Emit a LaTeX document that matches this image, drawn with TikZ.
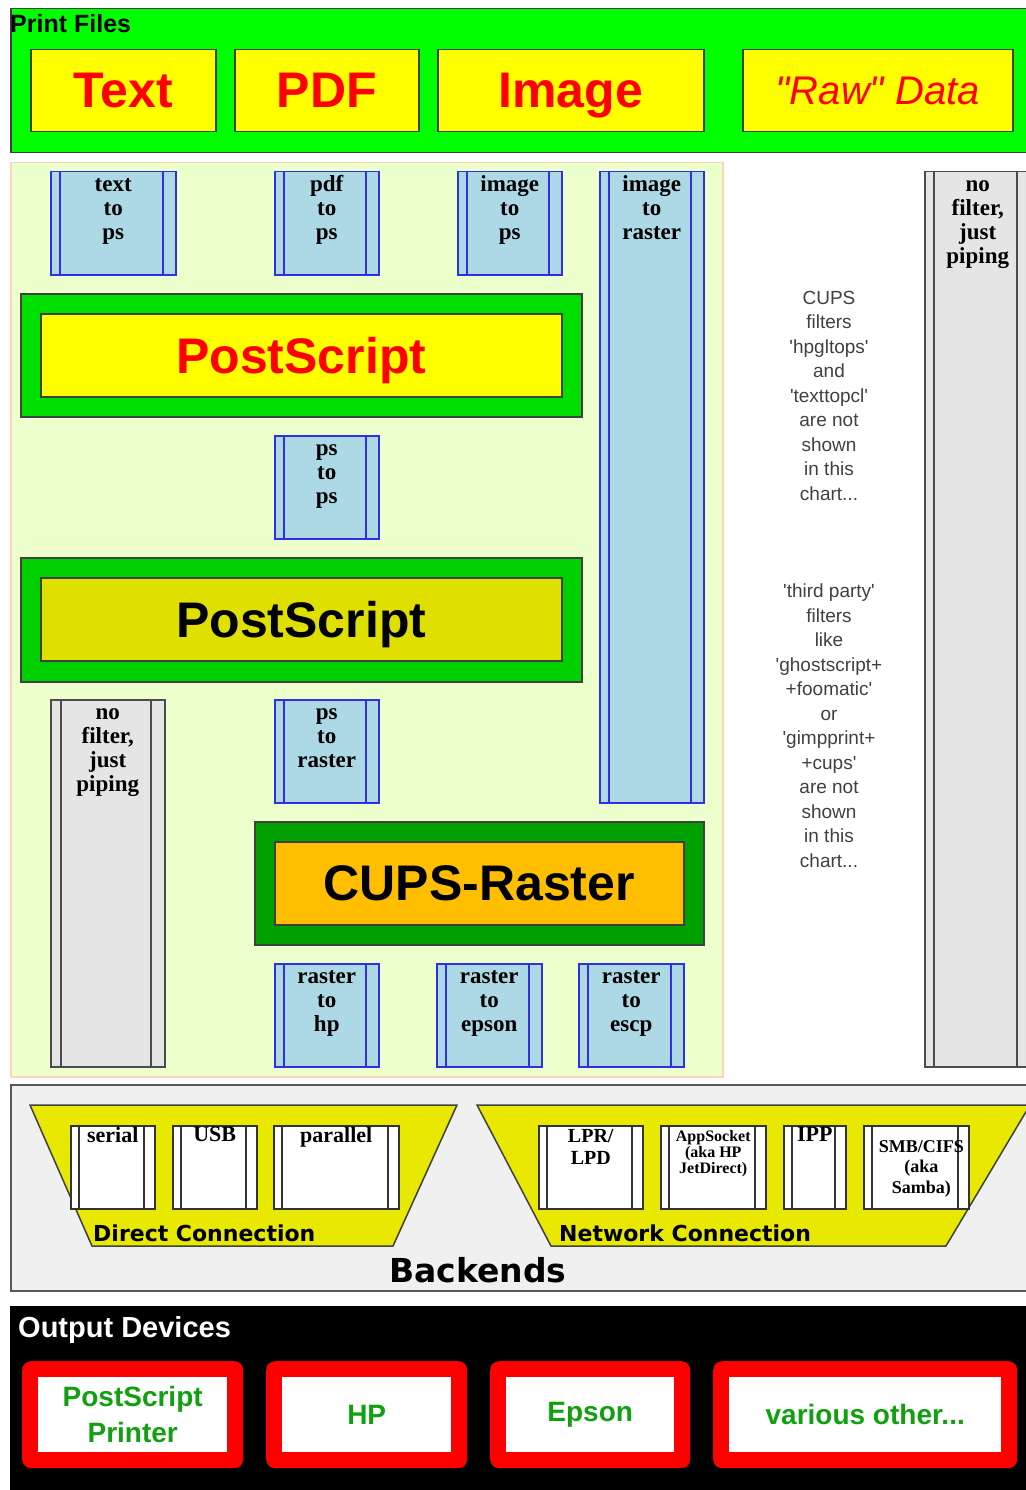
\documentclass[tikz,border=0pt]{standalone}
\usepackage{fontspec}
\setmainfont{Liberation Sans}
\newfontfamily\verafont{DejaVu Sans}
\newfontfamily\filterfont{Liberation Serif}
\newfontfamily\notefont{Liberation Sans}
\usepackage{xcolor}
\definecolor{filesgreen}{HTML}{00FF00}
\definecolor{fileyellow}{HTML}{FFFF00}
\definecolor{areagreen}{HTML}{EEFFCE}
\definecolor{areaborder}{HTML}{F8D8B8}
\definecolor{filterblue}{HTML}{3030E0}
\definecolor{filtercyan}{HTML}{ADD8E6}
\definecolor{psgreen}{HTML}{00E000}
\definecolor{psdarkgreen}{HTML}{00D000}
\definecolor{psdarkyellow}{HTML}{E0E000}
\definecolor{cupsgreen}{HTML}{00A000}
\definecolor{cupsorange}{HTML}{FFBF00}
\definecolor{backgrey}{HTML}{F0F0F0}
\definecolor{trapyellow}{HTML}{E8E800}
\definecolor{devgreen}{HTML}{10A010}
\newcommand\topstrut{\rule{0pt}{17pt}}
\tikzset{
    box-size/.style 2 args = {minimum width=#1pt, minimum height=#2pt},
    frame-box/.style = {draw=black!75, line width=1.5pt, rectangle, anchor=north west, inner sep=0pt, text depth=0pt},
    file-box/.style = {frame-box, fill=fileyellow, text=red, font=\bfseries\fontsize{50}{60}\selectfont},
    big-box/.style = {frame-box, font=\bfseries\fontsize{50}{60}\selectfont},
    two-bars/.style n args = {3}{path picture={
        \draw[#3, line width=1.5pt]
            ([xshift=#1]path picture bounding box.north west) -- ([xshift=#1]path picture bounding box.south west)
            ([xshift=-#2]path picture bounding box.north east) -- ([xshift=-#2]path picture bounding box.south east);}},
    filter-box/.style = {draw=filterblue, fill=filtercyan, line width=1.5pt, rectangle, anchor=north west, inner sep=0pt, two-bars={9pt}{13pt}{filterblue}},
    pipe-box/.style = {draw=black!70, fill=black!10, line width=1.5pt, rectangle, anchor=north west, inner sep=0pt, two-bars={10pt}{14pt}{black!70}},
    port-box/.style = {draw=black!80, fill=white, line width=1.5pt, rectangle, anchor=north west, inner sep=0pt, two-bars={8pt}{11pt}{black!80}},
    filter-text/.style = {anchor=north, align=center, inner sep=0pt, yshift=-3pt, font=\filterfont\bfseries\fontsize{23}{24}\selectfont},
    port-text/.style = {anchor=north, align=center, inner sep=0pt, yshift=-2pt, font=\filterfont\bfseries\fontsize{22}{22}\selectfont},
    note-text/.style = {anchor=north, align=center, inner sep=0pt, text=black!75, font=\notefont\fontsize{19}{24.5}\selectfont},
    trap/.style = {draw=black!75, fill=trapyellow, line width=1.5pt},
    trap-title/.style = {anchor=base west, inner sep=0pt, font=\verafont\bfseries\fontsize{22}{26}\selectfont},
    device-frame/.style = {fill=red, rounded corners=9pt, rectangle, anchor=north west, inner sep=0pt},
    device-box/.style = {fill=white, rectangle, anchor=north west, inner sep=0pt, align=center, text=devgreen, font=\bfseries\fontsize{28}{36}\selectfont},
}
\begin{document}
\begin{tikzpicture}[x=1pt, y=-1pt]
\useasboundingbox (0,0) rectangle (1025,1490);

% print files
\node[frame-box, fill=filesgreen, box-size={1025}{144}] (files) at (10,8) {};
\node[anchor=base west, inner sep=0pt, font=\bfseries\fontsize{25}{30}\selectfont] (files-title) at (10,33) {Print Files};
\node[file-box, box-size={185}{82}] (text) at (30,49) {Text};
\node[file-box, box-size={184}{82}] (pdf) at (234,49) {PDF};
\node[file-box, box-size={266}{82}] (image) at (437,49) {Image};
\node[file-box, box-size={270}{82}, font=\itshape\fontsize{40}{48}\selectfont] (raw) at (742,49) {\textquotedbl Raw\textquotedbl{} Data};

% filters
\node[draw=areaborder, fill=areagreen, line width=1.5pt, rectangle, anchor=north west, inner sep=0pt, box-size={712}{914}] (filters) at (10,162) {};

\node[filter-box, box-size={125}{103}] (txt2ps) at (50,171) {};
\node[filter-text] (txt2ps-label) at (txt2ps.north) {\topstrut text\\to\\ps};
\node[filter-box, box-size={104}{103}] (pdf2ps) at (274,171) {};
\node[filter-text] (pdf2ps-label) at (pdf2ps.north) {\topstrut pdf\\to\\ps};
\node[filter-box, box-size={104}{103}] (img2ps) at (457,171) {};
\node[filter-text] (img2ps-label) at (img2ps.north) {\topstrut image\\to\\ps};
\node[filter-box, box-size={104}{631}] (img2raster) at (599,171) {};
\node[filter-text] (img2raster-label) at (img2raster.north) {\topstrut image\\to\\raster};

\node[big-box, fill=psgreen, box-size={561}{123}] (ps) at (20,293) {};
\node[big-box, fill=fileyellow, text=red, box-size={521}{83}] (ps-in) at (40,313) {PostScript};

\node[filter-box, box-size={104}{103}] (ps2ps) at (274,435) {};
\node[filter-text] (ps2ps-label) at (ps2ps.north) {\topstrut ps\\to\\ps};

\node[big-box, fill=psdarkgreen, box-size={561}{124}] (ps-dev) at (20,557) {};
\node[big-box, fill=psdarkyellow, box-size={521}{83}] (ps-dev-in) at (40,577) {PostScript};

\node[pipe-box, box-size={114}{367}] (pipe-ps) at (50,699) {};
\node[filter-text] (pipe-ps-label) at (pipe-ps.north) {\topstrut no\\filter,\\just\\piping};
\node[filter-box, box-size={104}{103}] (ps2raster) at (274,699) {};
\node[filter-text] (ps2raster-label) at (ps2raster.north) {\topstrut ps\\to\\raster};

\node[big-box, fill=cupsgreen, box-size={449}{123}] (cups) at (254,821) {};
\node[big-box, fill=cupsorange, box-size={409}{83}] (cups-in) at (274,841) {CUPS-Raster};

\node[filter-box, box-size={104}{103}] (raster2hp) at (274,963) {};
\node[filter-text] (raster2hp-label) at (raster2hp.north) {\topstrut raster\\to\\hp};
\node[filter-box, box-size={105}{103}] (raster2epson) at (436,963) {};
\node[filter-text] (raster2epson-label) at (raster2epson.north) {\topstrut raster\\to\\epson};
\node[filter-box, box-size={105}{103}] (raster2escp) at (578,963) {};
\node[filter-text] (raster2escp-label) at (raster2escp.north) {\topstrut raster\\to\\escp};

% right column
\node[note-text] (note-cups) at (829,291) {CUPS\\filters\\'hpgltops'\\and\\'texttopcl'\\are not\\shown\\in this\\chart...};
\node[note-text] (note-third) at (829,584) {'third party'\\filters\\like\\'ghostscript+\\+foomatic'\\or\\'gimpprint+\\+cups'\\are not\\shown\\in this\\chart...};
\node[pipe-box, box-size={106}{895}, two-bars={9pt}{14pt}{black!70}] (pipe-raw) at (924,171) {};
\node[filter-text] (pipe-raw-label) at (pipe-raw.north) {\topstrut no\\filter,\\just\\piping};

% backends
\node[frame-box, draw=black!65, fill=backgrey, box-size={1025}{206}] (backends) at (10,1084) {};
\draw[trap] (30,1105) coordinate (direct-nw) -- (457,1105) -- (393,1246) -- (92,1246) -- cycle;
\draw[trap] (477,1105) coordinate (network-nw) -- (1030,1105) -- (946,1246) -- (551,1246) -- cycle;
\node[port-box, box-size={84}{83}] (serial) at (70,1125) {};
\node[port-text] (serial-label) at (serial.north) {serial};
\node[port-box, box-size={84}{83}] (usb) at (172,1125) {};
\node[port-text] (usb-label) at (usb.north) {USB};
\node[port-box, box-size={125}{83}] (parallel) at (273,1125) {};
\node[port-text] (parallel-label) at (parallel.north) {parallel};
\node[port-box, box-size={104}{83}] (lpd) at (538,1125) {};
\node[port-text, yshift=-2pt, font=\filterfont\bfseries\fontsize{20}{22}\selectfont] (lpd-label) at (lpd.north) {LPR/\\LPD};
\node[port-box, box-size={105}{83}] (socket) at (660,1125) {};
\node[port-text, yshift=-3pt, font=\filterfont\bfseries\fontsize{16}{16}\selectfont] (socket-label) at (socket.north) {AppSocket\\(aka HP\\JetDirect)};
\node[port-box, box-size={62}{83}] (ipp) at (783,1125) {};
\node[port-text] (ipp-label) at (ipp.north) {IPP};
\node[port-box, box-size={105}{83}] (smb) at (863,1125) {};
\node[port-text, yshift=-13pt, xshift=5pt, font=\filterfont\bfseries\fontsize{18}{20.5}\selectfont] (smb-label) at (smb.north) {SMB/CIFS\\(aka\\Samba)};
\node[trap-title] (direct) at (93,1241) {Direct Connection};
\node[trap-title] (network) at (559,1241) {Network Connection};
\node[anchor=base, inner sep=0pt, font=\verafont\bfseries\fontsize{33}{40}\selectfont] (backends-title) at (478,1282) {Backends};

% output devices
\node[frame-box, draw=black, fill=black, box-size={1025}{190}] (output) at (10,1306) {};
\node[anchor=base west, inner sep=0pt, text=white, font=\bfseries\fontsize{29}{34}\selectfont] (output-title) at (18,1337) {Output Devices};
\node[device-frame, box-size={221}{107}] (psprinter) at (22,1361) {};
\node[device-box, box-size={189}{75}] (psprinter-in) at (38,1377) {PostScript\\Printer};
\node[device-frame, box-size={201}{107}] (hp) at (266,1361) {};
\node[device-box, box-size={169}{75}] (hp-in) at (282,1377) {HP};
\node[device-frame, box-size={200}{107}] (epson) at (490,1361) {};
\node[device-box, box-size={168}{75}] (epson-in) at (506,1377) {Epson};
\node[device-frame, box-size={304}{107}] (other) at (713,1361) {};
\node[device-box, box-size={272}{75}] (other-in) at (729,1377) {various other...};
\end{tikzpicture}
\end{document}
